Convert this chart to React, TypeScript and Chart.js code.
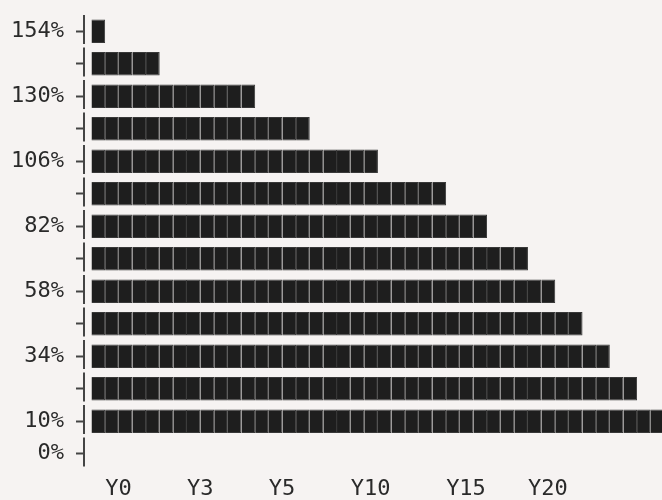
import React, { useEffect, useRef } from 'react';
import { Chart, registerables } from 'chart.js';

Chart.register(...registerables);

// Row (category) labels on the y axis, top to bottom
const rowLabels = ['154%', '', '130%', '', '106%', '', '82%', '', '58%', '', '34%', '', '10%', '0%'];
// Number of unit cells in each row's bar
const cellCounts = [1, 5, 12, 16, 21, 26, 29, 32, 34, 36, 38, 40, 42, 0];
// x-axis tick positions (in cell units) and their labels
const xTickValues = [1, 7, 13, 19, 26, 32];
const xTickLabels = ['Y0', 'Y3', 'Y5', 'Y10', 'Y15', 'Y20'];

const FONT = { family: '"DejaVu Sans Mono", monospace', size: 22 };
const AXIS_COLOR = '#444';
const TEXT_COLOR = '#2a2a2a';

// Draws the y-axis border as one segment per row, with a small gap between rows
const segmentedBorder = {
  id: 'segmentedBorder',
  afterDraw(chart: any) {
    const y = chart.scales.y;
    const ctx = chart.ctx;
    const rowH = (y.bottom - y.top) / rowLabels.length;
    const gap = 3.6;
    const x = Math.round(y.right);
    ctx.save();
    ctx.strokeStyle = AXIS_COLOR;
    ctx.lineWidth = 2;
    ctx.setLineDash([rowH - gap, gap]);
    ctx.beginPath();
    ctx.moveTo(x, y.top);
    ctx.lineTo(x, y.bottom);
    ctx.stroke();
    ctx.restore();
  },
};

export default function App() {
  const ref = useRef<HTMLCanvasElement>(null);

  useEffect(() => {
    document.body.style.margin = '0';
    document.body.style.overflow = 'hidden';
    document.body.style.background = '#f6f3f2';

    const maxCells = Math.max(...cellCounts);
    const datasets = Array.from({ length: maxCells }, (_, d) => ({
      label: 'cell ' + (d + 1),
      data: cellCounts.map((c) => (d < c ? 1 : null)),
      backgroundColor: '#1e1e1e',
      borderColor: '#383838',
      borderWidth: 1,
    }));

    const chart = new Chart(ref.current!, {
      type: 'bar',
      data: { labels: rowLabels, datasets },
      plugins: [segmentedBorder],
      options: {
        indexAxis: 'y',
        responsive: false,
        animation: false,
        layout: { padding: { top: 15, left: 0, right: 0, bottom: 0 } },
        plugins: { legend: { display: false }, tooltip: { enabled: false } },
        scales: {
          x: {
            type: 'linear',
            stacked: true,
            min: -0.55,
            max: 43,
            grid: { display: false, drawTicks: false },
            border: { display: false },
            afterBuildTicks: (s: any) => {
              s.ticks = xTickValues.map((v) => ({ value: v }));
            },
            afterFit: (s: any) => {
              s.height = 30;
              s.paddingLeft = 0;
              s.paddingRight = 0;
            },
            ticks: {
              autoSkip: false,
              maxRotation: 0,
              align: 'start',
              padding: 6,
              color: TEXT_COLOR,
              font: FONT,
              callback: (_v: any, i: number) => xTickLabels[i],
            },
          },
          y: {
            stacked: true,
            grid: { drawOnChartArea: false, offset: false, tickLength: 8, tickColor: AXIS_COLOR, tickWidth: 2 },
            border: { display: false },
            afterFit: (s: any) => {
              s.width = 84;
              s.paddingTop = 0;
              s.paddingBottom = 0;
            },
            ticks: { autoSkip: false, padding: 12, color: TEXT_COLOR, font: FONT },
          },
        },
      },
    } as any);

    return () => chart.destroy();
  }, []);

  return <canvas ref={ref} width={678} height={500} style={{ display: 'block' }} />;
}
